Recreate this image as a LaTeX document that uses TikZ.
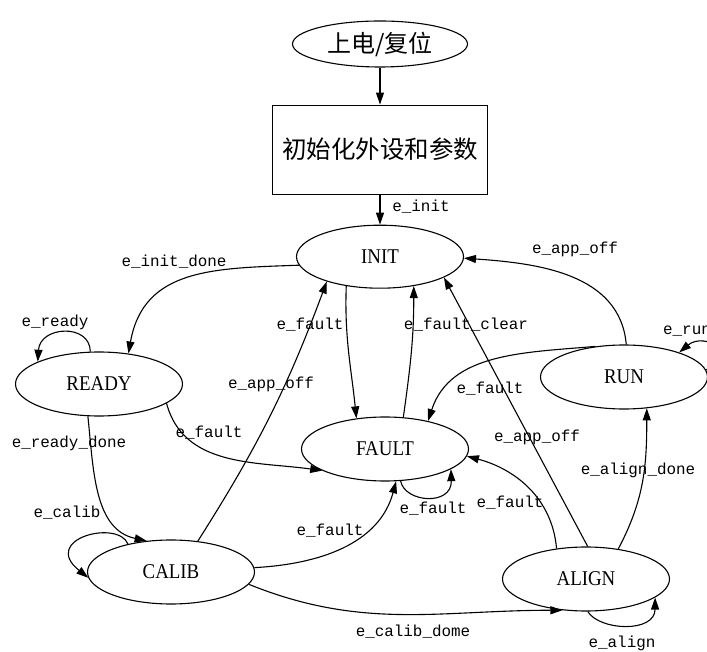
\documentclass[tikz,border=0pt]{standalone}
\usepackage{fontspec}
\setmainfont{Liberation Serif}
\setmonofont{Liberation Mono}
\newfontfamily\cjkfont{Noto Sans CJK SC}
\newfontfamily\statefamily[FakeStretch=0.9]{Liberation Serif}
\usetikzlibrary{arrows.meta,positioning,shapes.geometric}
\tikzset{
  state/.style={
    draw,
    ellipse,
    line width=1.1pt,
    minimum width=167pt,
    minimum height=64pt,
    inner sep=0pt,
    font=\statefamily\fontsize{21}{24}\selectfont
  },
  power/.style={
    draw,
    ellipse,
    line width=1.1pt,
    minimum width=175pt,
    minimum height=46pt,
    inner sep=0pt,
    font=\cjkfont\fontsize{24}{28}\selectfont
  },
  proc/.style={
    draw,
    line width=1.1pt,
    minimum width=215pt,
    minimum height=89pt,
    inner sep=0pt,
    font=\cjkfont\fontsize{24.5}{28}\selectfont
  },
  lbl/.style={
    inner sep=0pt,
    font=\ttfamily\fontsize{15.9}{18}\selectfont
  },
  arrow/.style={-{Triangle[length=12pt,width=8pt]}, line width=1.1pt}
}

\begin{document}
\begin{tikzpicture}[x=1pt,y=1pt]
\useasboundingbox (0,0) rectangle (707,651);

% start-up chain
\node[power] (reset) at (380,607) {上电/复位};
\node[proc, below=37pt of reset] (setup) {初始化外设和参数};
\node[state, below=30pt of setup, minimum height=63pt] (init) {INIT};

% states
\node[state] (ready) at (99,267) {READY};
\node[state] (fault) at (385,202) {FAULT};
\node[state] (run) at (624,274) {RUN};
\node[state] (calib) at (171,79) {CALIB};
\node[state] (align) at (586,72) {ALIGN};

% edge labels
\node[lbl] (lb_init) at (421,444) {e\_init};
\node[lbl] (lb_initdone) at (174,389) {e\_init\_done};
\node[lbl] (lb_ready) at (55,329) {e\_ready};
\node[lbl] (lb_readydone) at (69,208) {e\_ready\_done};
\node[lbl] (lb_rdfault) at (209,218) {e\_fault};
\node[lbl] (lb_infault) at (310,326) {e\_fault};
\node[lbl] (lb_clear) at (466,326) {e\_fault\_clear};
\node[lbl] (lb_caoff) at (271,267) {e\_app\_off};
\node[lbl] (lb_calib) at (67,138) {e\_calib};
\node[lbl] (lb_cafault) at (330,120) {e\_fault};
\node[lbl] (lb_calibdone) at (413,19) {e\_calib\_dome};
\node[lbl] (lb_ffault) at (433,142) {e\_fault};
\node[lbl] (lb_alfault) at (510,148) {e\_fault};
\node[lbl] (lb_aloff) at (537,214) {e\_app\_off};
\node[lbl] (lb_aligndone) at (638,181) {e\_align\_done};
\node[lbl] (lb_align) at (622,8) {e\_align};
\node[lbl] (lb_rufault) at (490,262) {e\_fault};
\node[lbl] (lb_ruoff) at (575,402) {e\_app\_off};
\node[lbl] (lb_run) at (687,320) {e\_run};

% Connections
\draw[arrow] (reset) -- (setup);
\draw[arrow] (setup.south) -- (init.north);

\draw[arrow] (init.186) to[out=182,in=80,looseness=1.15] (ready.46);
\draw[arrow] (ready.105) .. controls (90,328) and (40,325) .. (ready.160);
\draw[arrow] (ready.251) to[out=-84,in=168] (calib.128);
\draw[arrow] (ready.-16) to[out=-75,in=172] (fault.199);

\draw[arrow] (calib.147) .. controls (118,132) and (40,112) .. (calib.184);
\draw[arrow] (calib.49) to[bend right=6] (init.205);
\draw[arrow] (calib.3) to[out=3,in=-105] (fault.-71);
\draw[arrow] (calib.-9) to[out=-22,in=180] (align.233);

\draw[arrow] (init.221) to[out=-92,in=96] (fault.133);
\draw[arrow] (fault.60) to[out=82,in=-90] (init.-41);
\draw[arrow] (fault.-64) .. controls (405,148) and (452,145) .. (fault.-17);

\draw[arrow] (run.86) to[out=95,in=-4] (init.-1);
\draw[arrow] (run.5) .. controls (745,295) and (705,320) .. (run.24);
\draw[arrow] (run.133) to[out=185,in=72] (fault.33);

\draw[arrow] (align.87) -- (init.-18);
\draw[arrow] (align.134) to[out=95,in=-15] (fault.-5);
\draw[arrow] (align.43) to[out=62,in=-90] (run.-54);
\draw[arrow] (align.-87) .. controls (600,20) and (655,18) .. (align.-15);

\end{tikzpicture}
\end{document}
